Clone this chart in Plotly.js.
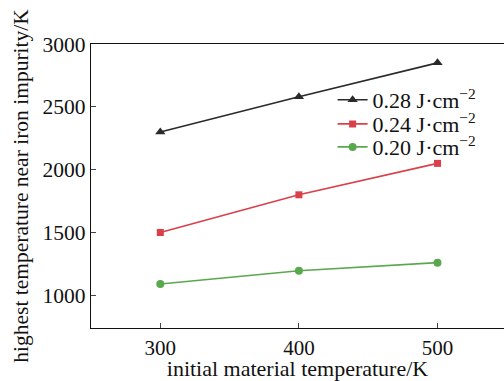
<!DOCTYPE html>
<html><head><meta charset="utf-8">
<script src="https://cdn.plot.ly/plotly-3.0.1.min.js"></script>
<style>body{margin:0;background:#fff}#c{width:504px;height:381px}</style>
</head><body><div id="c"></div>
<script>
const xTemps = [300, 400, 500];
const series028 = [2300, 2580, 2850];
const series024 = [1500, 1800, 2050];
const series020 = [1090, 1195, 1260];
const yTicks = [1000, 1500, 2000, 2500, 3000];
const names = ['0.28 J·cm<sup>−2</sup>', '0.24 J·cm<sup>−2</sup>', '0.20 J·cm<sup>−2</sup>'];
const colors = ['#2a2a2a', '#d9404a', '#5aa84e'];
const symbols = ['triangle-up', 'square', 'circle'];
const sizes = [9, 7, 8];
const legendIds = ['legend', 'legend2', 'legend3'];
const data = [series028, series024, series020].map((y, i) => ({
  x: xTemps, y: y, type: 'scatter', mode: 'lines+markers', name: names[i],
  legend: legendIds[i],
  line: {color: colors[i], width: 1.6},
  marker: {color: colors[i], symbol: symbols[i], size: sizes[i]}
}));
const font = {family: '"Liberation Serif", "Times New Roman", serif', color: '#111'};
const lf = Object.assign({size: 22}, font);
function leg(y) {
  return {x: 0.585, y: y, xanchor: 'left', yanchor: 'middle', bgcolor: 'rgba(0,0,0,0)',
    font: lf, itemwidth: 30, borderwidth: 0};
}
Plotly.newPlot('c', data, {
  width: 504, height: 381,
  margin: {l: 91, r: 0, t: 44, b: 53},
  paper_bgcolor: '#fff', plot_bgcolor: '#fff',
  font: Object.assign({size: 22}, font),
  showlegend: true,
  legend: leg(0.803), legend2: leg(0.718), legend3: leg(0.637),
  xaxis: {range: [250, 548], tickvals: xTemps, ticks: 'inside', ticklen: 5,
    showgrid: false, zeroline: false, showline: true, linecolor: '#111', linewidth: 1.3, mirror: true,
    tickfont: Object.assign({size: 21}, font),
    title: {text: 'initial material temperature/K', font: Object.assign({size: 22}, font), standoff: 0}},
  yaxis: {range: [740, 3000], tickvals: yTicks, ticks: 'inside', ticklen: 5,
    showgrid: false, zeroline: false, showline: true, linecolor: '#111', linewidth: 1.3,
    tickfont: Object.assign({size: 21.5}, font),
    title: {text: 'highest temperature near iron impurity/K', font: Object.assign({size: 21.5}, font), standoff: 8}}
}, {displayModeBar: false, staticPlot: true});
</script></body></html>
